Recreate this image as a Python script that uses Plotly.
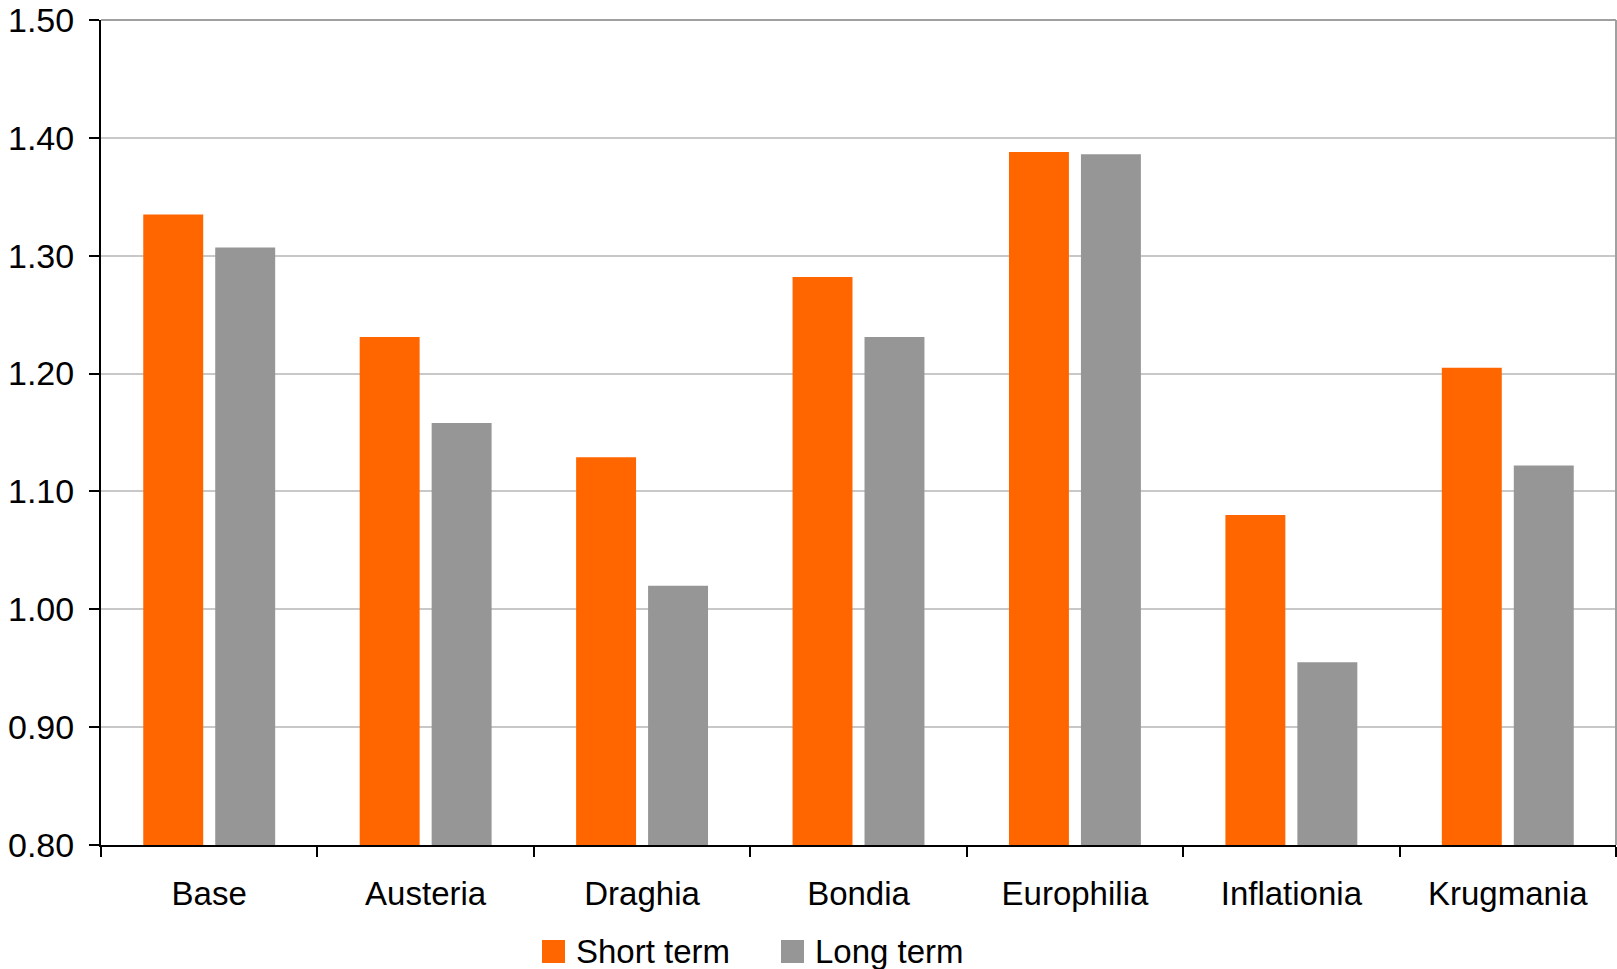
import plotly.graph_objects as go

# Scenario names and exchange-rate outcomes per horizon
scenarios = ["Base", "Austeria", "Draghia", "Bondia", "Europhilia", "Inflationia", "Krugmania"]
short_term = [1.335, 1.231, 1.129, 1.282, 1.388, 1.080, 1.205]
long_term = [1.307, 1.158, 1.020, 1.231, 1.386, 0.955, 1.122]
series_names = ["Short term", "Long term"]
y_ticks = [0.80, 0.90, 1.00, 1.10, 1.20, 1.30, 1.40, 1.50]

ORANGE = "#FF6600"
GREY = "#969696"
FONT = "Liberation Sans, Arial, sans-serif"

W, H = 1617, 969
M_L, M_R, M_T, M_B = 101, 1, 20, 124
PW, PH = W - M_L - M_R, H - M_T - M_B


def px_x(px):
    return (px - M_L) / PW


def px_y(py):
    return (H - M_B - py) / PH


fig = go.Figure()
fig.add_trace(go.Bar(x=scenarios, y=short_term, name=series_names[0],
                     marker=dict(color=ORANGE, line=dict(width=0)), showlegend=False))
fig.add_trace(go.Bar(x=scenarios, y=long_term, name=series_names[1],
                     marker=dict(color=GREY, line=dict(width=0)), showlegend=False))

fig.update_layout(
    width=W, height=H,
    margin=dict(l=M_L, r=M_R, t=M_T, b=M_B, pad=0),
    paper_bgcolor="white", plot_bgcolor="white",
    barmode="group", bargap=0.335, bargroupgap=0.167,
    font=dict(family=FONT, color="black"),
    showlegend=False,
)
fig.update_xaxes(
    showline=True, linecolor="black", linewidth=2,
    ticks="outside", tickson="boundaries", ticklen=10, tickwidth=1.5, tickcolor="black",
    tickfont=dict(size=33, family=FONT, color="black"),
    ticklabelstandoff=18,
    showgrid=False,
)
fig.update_yaxes(
    range=[0.8, 1.5], tickvals=y_ticks, tickformat=".2f",
    showline=True, linecolor="black", linewidth=2,
    ticks="outside", ticklen=10, tickwidth=1.5, tickcolor="black",
    tickfont=dict(size=34, family=FONT, color="black"),
    ticklabelstandoff=8,
    showgrid=True, gridcolor="#C8C8C8", gridwidth=2,
    zeroline=False,
)

# Top and right frame of the plot area
fig.add_shape(type="line", xref="paper", yref="paper", x0=0, x1=1, y0=1, y1=1,
              line=dict(color="#A0A0A0", width=2))
fig.add_shape(type="line", xref="paper", yref="paper", x0=1, x1=1, y0=0, y1=1,
              line=dict(color="#A0A0A0", width=2))

# Legend drawn below the axis with large square swatches
legend_items = [(series_names[0], ORANGE, 542), (series_names[1], GREY, 781)]
for name, color, left in legend_items:
    fig.add_shape(type="rect", xref="paper", yref="paper",
                  x0=px_x(left), x1=px_x(left + 23), y0=px_y(963), y1=px_y(940),
                  fillcolor=color, line=dict(width=0))
    fig.add_annotation(text=name, xref="paper", yref="paper",
                       x=px_x(left + 32), y=px_y(951), xanchor="left", yanchor="middle",
                       showarrow=False, font=dict(size=33, family=FONT, color="black"))

fig.write_html("out.html")
